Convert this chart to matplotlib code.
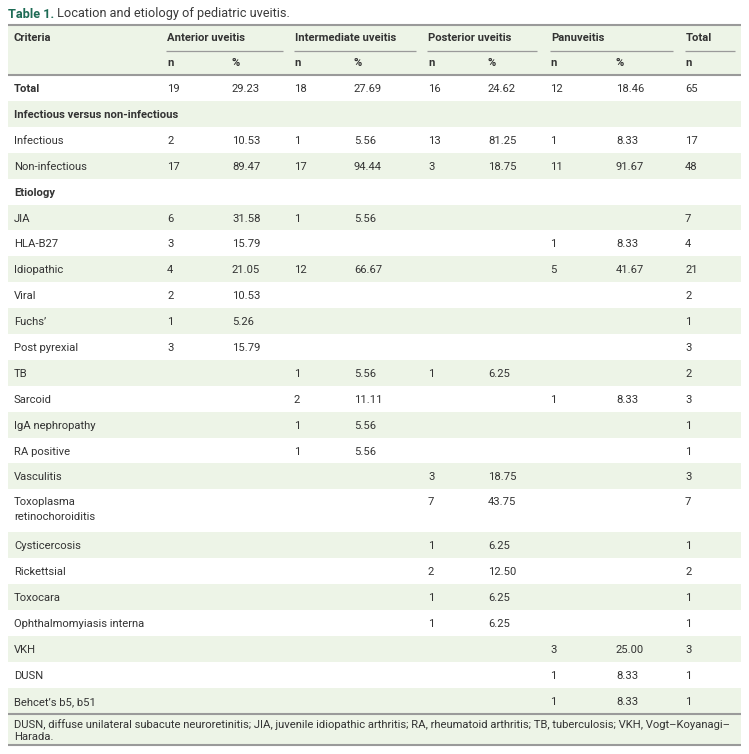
import matplotlib.pyplot as plt
from matplotlib.patches import Rectangle

plt.rcParams['font.family'] = ['Roboto', 'DejaVu Sans']

# データ
labels = ['Total', 'Infectious versus non-infectious', 'Infectious', 'Non-infectious', 'Etiology',
          'JIA', 'HLA-B27', 'Idiopathic', 'Viral', 'Fuchs\u2019', 'Post pyrexial', 'TB', 'Sarcoid',
          'IgA nephropathy', 'RA positive', 'Vasculitis', 'Toxoplasma\nretinochoroiditis',
          'Cysticercosis', 'Rickettsial', 'Toxocara', 'Ophthalmomyiasis interna', 'VKH', 'DUSN',
          'Behcet\u2019s b5, b51']
bold_rows = ['Total', 'Infectious versus non-infectious', 'Etiology']
N = None
anterior_n = [19, N, 2, 17, N, 6, 3, 4, 2, 1, 3, N, N, N, N, N, N, N, N, N, N, N, N, N]
anterior_pct = [29.23, N, 10.53, 89.47, N, 31.58, 15.79, 21.05, 10.53, 5.26, 15.79, N, N, N, N,
                N, N, N, N, N, N, N, N, N]
intermediate_n = [18, N, 1, 17, N, 1, N, 12, N, N, N, 1, 2, 1, 1, N, N, N, N, N, N, N, N, N]
intermediate_pct = [27.69, N, 5.56, 94.44, N, 5.56, N, 66.67, N, N, N, 5.56, 11.11, 5.56, 5.56,
                    N, N, N, N, N, N, N, N, N]
posterior_n = [16, N, 13, 3, N, N, N, N, N, N, N, 1, N, N, N, 3, 7, 1, 2, 1, 1, N, N, N]
posterior_pct = [24.62, N, 81.25, 18.75, N, N, N, N, N, N, N, 6.25, N, N, N, 18.75, 43.75, 6.25,
                 12.50, 6.25, 6.25, N, N, N]
panuveitis_n = [12, N, 1, 11, N, N, 1, 5, N, N, N, N, 1, N, N, N, N, N, N, N, N, 3, 1, 1]
panuveitis_pct = [18.46, N, 8.33, 91.67, N, N, 8.33, 41.67, N, N, N, N, 8.33, N, N, N, N, N, N,
                  N, N, 25.00, 8.33, 8.33]
total_n = [65, N, 17, 48, N, 7, 4, 21, 2, 1, 3, 2, 3, 1, 1, 3, 7, 1, 2, 1, 1, 3, 1, 1]

groups = ['Anterior uveitis', 'Intermediate uveitis', 'Posterior uveitis', 'Panuveitis', 'Total']
title_num = 'Table 1.'
title_text = 'Location and etiology of pediatric uveitis.'
footnote = ('DUSN, diffuse unilateral subacute neuroretinitis; JIA, juvenile idiopathic arthritis; '
            'RA, rheumatoid arthritis; TB, tuberculosis; VKH, Vogt\u2013Koyanagi\u2013\nHarada.')

# レイアウト (ピクセル)
W, H = 749, 754
left, right = 8, 741
green = '#edf4e7'
rule = '#9a9a9a'
txt = '#333333'
fs = 8.1
col_x = [167, 232, 294, 354, 428, 488, 550, 616, 685]
group_x = [(166, 283), (294, 416), (427, 537), (550, 673), (685, 735)]
row_h = 25.9

fig = plt.figure(figsize=(W / 100, H / 100), dpi=100)
ax = fig.add_axes([0, 0, 1, 1])
ax.set_xlim(0, W)
ax.set_ylim(H, 0)
ax.axis('off')

# タイトル
t1 = ax.text(left, 14, title_num, fontsize=9.2, fontweight='bold', color='#1d6b55', va='center')
ax.annotate(' ' + title_text, xy=(1, 0.5), xycoords=t1, fontsize=9.2, color='#3a3a3a',
            va='center', ha='left')

# ヘッダー
ax.add_patch(Rectangle((left, 25), right - left, 50, color=green, lw=0))
ax.text(14, 38, 'Criteria', fontsize=fs, fontweight='bold', color=txt, va='center')
for g, (x0, x1) in zip(groups, group_x):
    ax.text(x0 + 1, 38, g, fontsize=fs, fontweight='bold', color=txt, va='center')
    ax.plot([x0, x1], [50.5, 50.5], color=rule, lw=0.9, solid_capstyle='butt')
sub = ['n', '%', 'n', '%', 'n', '%', 'n', '%', 'n']
for x, s in zip(col_x, sub):
    ax.text(x, 63, s, fontsize=fs, fontweight='bold', color=txt, va='center')

# 行
cols = [anterior_n, anterior_pct, intermediate_n, intermediate_pct, posterior_n, posterior_pct,
        panuveitis_n, panuveitis_pct, total_n]
y = 75
for i, lab in enumerate(labels):
    h = 43 if '\n' in lab else row_h
    if i % 2 == 1:
        ax.add_patch(Rectangle((left, y), right - left, h, color=green, lw=0))
    weight = 'bold' if lab in bold_rows else 'normal'
    if '\n' in lab:
        l1, l2 = lab.split('\n')
        ax.text(14, y + 16, l1, fontsize=fs, fontweight=weight, color=txt, va='baseline')
        ax.text(14, y + 31, l2, fontsize=fs, fontweight=weight, color=txt, va='baseline')
        vy = y + 16
    else:
        ax.text(14, y + 17, lab, fontsize=fs, fontweight=weight, color=txt, va='baseline')
        vy = y + 17
    for j, (x, c) in enumerate(zip(col_x, cols)):
        v = c[i]
        if v is None:
            continue
        s = f'{v:.2f}' if j % 2 == 1 and j < 8 else str(v)
        ax.text(x, vy, s, fontsize=fs, color=txt, va='baseline')
    y += h

# 脚注
ax.add_patch(Rectangle((left, y), right - left, 745 - y, color=green, lw=0))
ax.text(14, y + 5, footnote, fontsize=fs, color=txt, va='top', linespacing=1.35)

# 罫線
for yy in [25, 75, y, 745]:
    ax.plot([left, right], [yy, yy], color=rule, lw=1.5, solid_capstyle='butt')

plt.savefig('out.png', dpi=100)
